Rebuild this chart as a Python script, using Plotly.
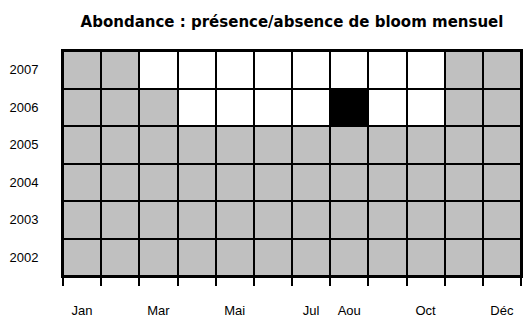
import plotly.graph_objects as go

# Monthly bloom status per year: 0 = not sampled, 1 = absence, 2 = presence
annees = [2002, 2003, 2004, 2005, 2006, 2007]
mois = list(range(1, 13))
statut_2002 = [0, 0, 0, 0, 0, 0, 0, 0, 0, 0, 0, 0]
statut_2003 = [0, 0, 0, 0, 0, 0, 0, 0, 0, 0, 0, 0]
statut_2004 = [0, 0, 0, 0, 0, 0, 0, 0, 0, 0, 0, 0]
statut_2005 = [0, 0, 0, 0, 0, 0, 0, 0, 0, 0, 0, 0]
statut_2006 = [0, 0, 0, 1, 1, 1, 1, 2, 1, 1, 0, 0]
statut_2007 = [0, 0, 1, 1, 1, 1, 1, 1, 1, 1, 0, 0]

# Month labels shown on the x axis
tick_mois_pos = [1, 3, 5, 7, 8, 10, 12]
tick_mois_txt = ["Jan", "Mar", "Mai", "Jul", "Aou", "Oct", "Déc"]

z = [statut_2002, statut_2003, statut_2004, statut_2005, statut_2006, statut_2007]

GRIS = "#C0C0C0"
colorscale = [
    [0.0, GRIS], [0.25, GRIS],
    [0.25, "#FFFFFF"], [0.75, "#FFFFFF"],
    [0.75, "#000000"], [1.0, "#000000"],
]

fig = go.Figure(
    go.Heatmap(
        x=mois,
        y=annees,
        z=z,
        zmin=0,
        zmax=2,
        colorscale=colorscale,
        showscale=False,
        xgap=2,
        ygap=2,
        hoverinfo="skip",
    )
)

police = "Liberation Sans, Arial, sans-serif"

fig.update_layout(
    width=525,
    height=320,
    margin=dict(l=63, r=2, t=51, b=36),
    paper_bgcolor="white",
    plot_bgcolor="black",
    font=dict(family=police, size=13, color="black"),
    title=dict(
        text="<b>Abondance : présence/absence de bloom mensuel</b>",
        x=0.5,
        xref="paper",
        xanchor="center",
        y=1 - 22 / 320,
        yanchor="middle",
        font=dict(family="DejaVu Sans, sans-serif", size=15, color="black"),
    ),
)

fig.update_xaxes(
    range=[0.5, 12.5],
    tickmode="array",
    tickvals=tick_mois_pos,
    ticktext=tick_mois_txt,
    ticks="outside",
    ticklen=21,
    tickcolor="rgba(0,0,0,0)",
    showgrid=False,
    zeroline=False,
    showline=True,
    linecolor="black",
    linewidth=2,
    mirror=True,
    minor=dict(
        tickmode="linear",
        tick0=0.5,
        dtick=1,
        ticks="outside",
        ticklen=8,
        tickwidth=1.5,
        tickcolor="black",
        showgrid=False,
    ),
    fixedrange=True,
)

fig.update_yaxes(
    range=[2001.5, 2007.5],
    tickmode="array",
    tickvals=annees,
    ticktext=[str(a) for a in annees],
    ticks="outside",
    ticklen=20,
    tickcolor="rgba(0,0,0,0)",
    showgrid=False,
    zeroline=False,
    showline=True,
    linecolor="black",
    linewidth=2,
    mirror=True,
    fixedrange=True,
)

fig.write_html("out.html")
